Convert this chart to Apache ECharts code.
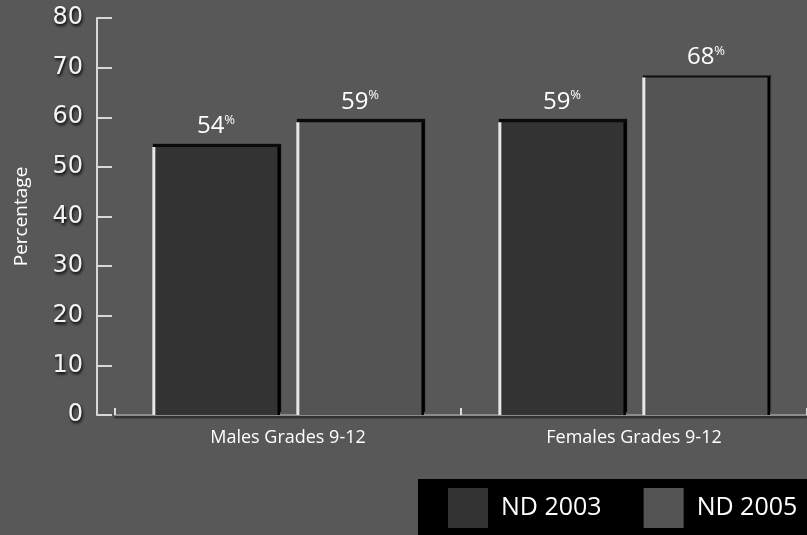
<!DOCTYPE html>
<html>
<head>
<meta charset="utf-8">
<script src="https://cdn.jsdelivr.net/npm/echarts@6/dist/echarts.min.js"></script>
<style>
html,body{margin:0;padding:0;background:#585858;}
#c{width:807px;height:535px;}
</style>
</head>
<body>
<div id="c"></div>
<script>
const categories = ['Males Grades 9-12', 'Females Grades 9-12'];
const seriesNames = ['ND 2003', 'ND 2005'];
const nd2003 = [54, 59];
const nd2005 = [59, 68];
const yMin = 0, yMax = 80, yStep = 10;

const chart = echarts.init(document.getElementById('c'), null, {renderer: 'canvas'});

function barStyle(base) {
  return {
    color: new echarts.graphic.LinearGradient(0, 0, 1, 0, [
      {offset: 0, color: '#8a8a8a'},
      {offset: 0.008, color: '#e8e8e8'},
      {offset: 0.022, color: '#e8e8e8'},
      {offset: 0.03, color: base},
      {offset: 0.975, color: base},
      {offset: 0.985, color: '#000'},
      {offset: 1, color: '#000'}
    ]),
    shadowColor: '#0a0a0a',
    shadowBlur: 1,
    shadowOffsetX: 1,
    shadowOffsetY: -3
  };
}

const labelCfg = {
  show: true,
  position: 'top',
  distance: 8,
  formatter: p => '{v|' + p.value + '}{p|%}',
  rich: {
    v: {fontFamily: 'Open Sans', fontSize: 24, color: '#ffffff'},
    p: {fontFamily: 'Open Sans', fontSize: 13, color: '#ffffff', verticalAlign: 'top', padding: [0, 0, 12, 0]}
  }
};

chart.setOption({
  backgroundColor: '#585858',
  animation: false,
  graphic: [{
    type: 'rect',
    left: 418, top: 479,
    shape: {width: 389, height: 56},
    style: {fill: '#000'},
    z: 0
  }],
  legend: {
    left: 448, top: 488,
    padding: 0,
    itemWidth: 40, itemHeight: 40,
    itemGap: 42,
    icon: 'rect',
    textStyle: {color: '#fff', fontFamily: 'Open Sans', fontSize: 25, padding: [0, 0, 0, 8]},
    data: [
      {name: seriesNames[0], itemStyle: {color: '#333333', shadowBlur: 0, shadowOffsetX: 0, shadowOffsetY: 0}},
      {name: seriesNames[1], itemStyle: {color: '#545454', shadowBlur: 0, shadowOffsetX: 0, shadowOffsetY: 0}}
    ],
    z: 5
  },
  grid: {left: 115, right: 0, top: 18, bottom: 120, containLabel: false},
  xAxis: {
    type: 'category',
    data: categories,
    axisLine: {show: true, lineStyle: {color: '#8c8c8c', width: 2, shadowColor: '#222', shadowBlur: 2, shadowOffsetY: 2}},
    axisTick: {show: true, inside: true, length: 7, lineStyle: {color: '#dddddd', width: 2}},
    axisLabel: {color: '#ffffff', fontFamily: 'Open Sans', fontSize: 18, margin: 14}
  },
  yAxis: {
    type: 'value',
    min: yMin, max: yMax, interval: yStep,
    offset: 18,
    name: 'Percentage',
    nameLocation: 'middle',
    nameGap: 66,
    nameRotate: 90,
    nameTextStyle: {color: '#ffffff', fontFamily: 'Open Sans', fontSize: 19},
    axisLine: {show: true, lineStyle: {color: '#d8d8d8', width: 2}},
    axisTick: {show: true, inside: true, length: 15, lineStyle: {color: '#d8d8d8', width: 2}},
    splitLine: {show: false},
    axisLabel: {
      color: '#f4f4f4', fontFamily: 'DejaVu Sans', fontSize: 24, margin: 14,
      textShadowColor: '#000', textShadowBlur: 3, textShadowOffsetX: 1, textShadowOffsetY: 2
    }
  },
  series: [
    {name: seriesNames[0], type: 'bar', data: nd2003, barWidth: 128, barGap: '12.5%',
     itemStyle: barStyle('#333333'), label: labelCfg},
    {name: seriesNames[1], type: 'bar', data: nd2005, barWidth: 128, barGap: '12.5%',
     itemStyle: barStyle('#545454'), label: labelCfg}
  ]
});
</script>
</body>
</html>
